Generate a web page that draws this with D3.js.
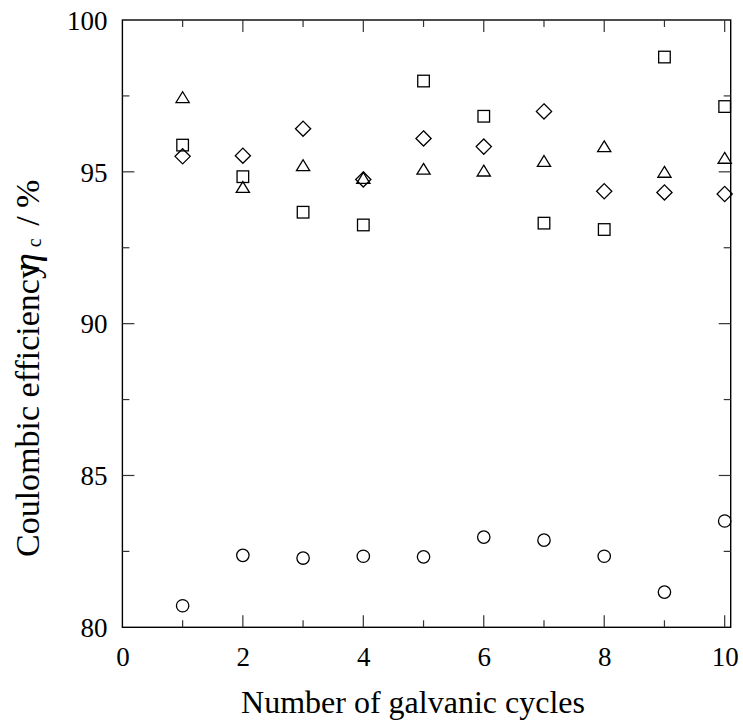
<!DOCTYPE html>
<html>
<head>
<meta charset="utf-8">
<script src="https://cdn.jsdelivr.net/npm/d3@7"></script>
<style>
  html, body { margin: 0; padding: 0; background: #fff; }
  svg { display: block; }
  svg text { font-family: "Liberation Serif", "Times New Roman", serif !important; fill: #000; }
</style>
</head>
<body>
<svg id="chart" width="743" height="726"></svg>
<script>
// ---- data ----
const cycles = [1, 2, 3, 4, 5, 6, 7, 8, 9, 10];
const squareSeries   = [95.88, 94.84, 93.67, 93.25, 97.99, 96.83, 93.31, 93.10, 98.78, 97.15];
const triangleSeries = [97.46, 94.50, 95.22, 94.80, 95.10, 95.04, 95.36, 95.84, 95.00, 95.46];
const diamondSeries  = [95.51, 95.53, 96.42, 94.75, 96.10, 95.83, 96.99, 94.36, 94.32, 94.27];
const circleSeries   = [80.71, 82.37, 82.28, 82.34, 82.32, 82.97, 82.87, 82.34, 81.16, 83.50];
const xTickValues = [0, 2, 4, 6, 8, 10];
const yTickValues = [80, 85, 90, 95, 100];
const xLabel = "Number of galvanic cycles";

// ---- layout ----
const svg = d3.select("#chart");
const pLeft = 122.4, pRight = 730.7, pTop = 20, pBottom = 627.3;
const x = d3.scaleLinear().domain([0, 10.1]).range([pLeft, pRight]);
const y = d3.scaleLinear().domain([80, 100]).range([pBottom, pTop]);
const serif = '"Liberation Serif", "Times New Roman", serif';

const g = svg.append("g");

// frame
g.append("rect").attr("x", pLeft).attr("y", pTop)
  .attr("width", pRight - pLeft).attr("height", pBottom - pTop)
  .attr("fill", "none").attr("stroke", "#000").attr("stroke-width", 1.4);

// ticks (inward), major + minor, on all four sides
const xMinor = d3.range(1, 10, 2);
const yMinor = d3.range(82.5, 100, 5);
function tickLines(vals, len, side) {
  vals.forEach(v => {
    let x1, y1, x2, y2;
    if (side === "bottom") { x1 = x2 = x(v); y1 = pBottom; y2 = pBottom - len; }
    if (side === "top")    { x1 = x2 = x(v); y1 = pTop; y2 = pTop + len; }
    if (side === "left")   { y1 = y2 = y(v); x1 = pLeft; x2 = pLeft + len; }
    if (side === "right")  { y1 = y2 = y(v); x1 = pRight; x2 = pRight - len; }
    g.append("line").attr("x1", x1).attr("y1", y1).attr("x2", x2).attr("y2", y2)
      .attr("stroke", "#333").attr("stroke-width", 1.2);
  });
}
const xMajorInner = d3.range(2, 11, 2);
tickLines(xMajorInner, 12, "bottom"); tickLines(xMinor, 7, "bottom");
tickLines(xMajorInner, 12, "top");    tickLines(xMinor, 7, "top");
const yMajorInner = [85, 90, 95];
tickLines(yMajorInner, 12, "left");   tickLines(yMinor, 7, "left");
tickLines(yMajorInner, 12, "right");  tickLines(yMinor, 7, "right");

// tick labels via d3 axes (tick lines hidden)
const xAxis = d3.axisBottom(x).tickValues(xTickValues).tickSize(0).tickPadding(0).tickFormat(d3.format("d"));
const xg = svg.append("g").attr("transform", `translate(0,${pBottom})`).call(xAxis)
  .attr("font-family", serif).attr("font-size", 27);
xg.select(".domain").remove();
xg.selectAll("text").style("font-family", serif).style("font-size", "27px")
  .attr("y", 39).attr("dy", 0).attr("fill", "#000");

const yAxis = d3.axisLeft(y).tickValues(yTickValues).tickSize(0).tickPadding(15).tickFormat(d3.format("d"));
const yg = svg.append("g").attr("transform", `translate(${pLeft},0)`).call(yAxis)
  .attr("font-family", serif).attr("font-size", 27);
yg.select(".domain").remove();
yg.selectAll("text").style("font-family", serif).style("font-size", "27px")
  .attr("dy", "0.34em").attr("fill", "#000");

// axis titles
svg.append("text").attr("x", 413).attr("y", 713).attr("text-anchor", "middle")
  .style("font-size", "32px").text(xLabel);

const yt = svg.append("text").attr("transform", "translate(38.5,557) rotate(-90)")
  .style("font-size", "34px").attr("text-anchor", "start");
yt.append("tspan").text("Coulombic efficiency");
yt.append("tspan").attr("dx", -10).attr("font-style", "italic").style("font-size", "38px").text("η");
yt.append("tspan").style("font-size", "20px").attr("dy", 2).attr("dx", 6).text("c");
yt.append("tspan").attr("dy", -2).attr("dx", 4).text(" / %");

// ---- markers ----
const stroke = "#000", sw = 1.3;
const plot = svg.append("g");
function pts(vals) { return cycles.map((c, i) => ({ c, v: vals[i] })); }

plot.selectAll(".sq").data(pts(squareSeries)).join("rect")
  .attr("x", d => x(d.c) - 5.8).attr("y", d => y(d.v) - 5.8)
  .attr("width", 11.6).attr("height", 11.6)
  .attr("fill", "none").attr("stroke", stroke).attr("stroke-width", sw);

plot.selectAll(".tri").data(pts(triangleSeries)).join("path")
  .attr("d", d => {
    const cx = x(d.c), cy = y(d.v), h = 10.8, w = 13.2;
    return `M${cx},${cy - h/2}L${cx + w/2},${cy + h/2}L${cx - w/2},${cy + h/2}Z`;
  })
  .attr("fill", "none").attr("stroke", stroke).attr("stroke-width", sw);

plot.selectAll(".dia").data(pts(diamondSeries)).join("path")
  .attr("d", d => {
    const cx = x(d.c), cy = y(d.v), r = 7.6;
    return `M${cx},${cy - r}L${cx + r},${cy}L${cx},${cy + r}L${cx - r},${cy}Z`;
  })
  .attr("fill", "none").attr("stroke", stroke).attr("stroke-width", sw);

plot.selectAll(".circ").data(pts(circleSeries)).join("circle")
  .attr("cx", d => x(d.c)).attr("cy", d => y(d.v)).attr("r", 6.2)
  .attr("fill", "none").attr("stroke", stroke).attr("stroke-width", sw);
</script>
</body>
</html>
